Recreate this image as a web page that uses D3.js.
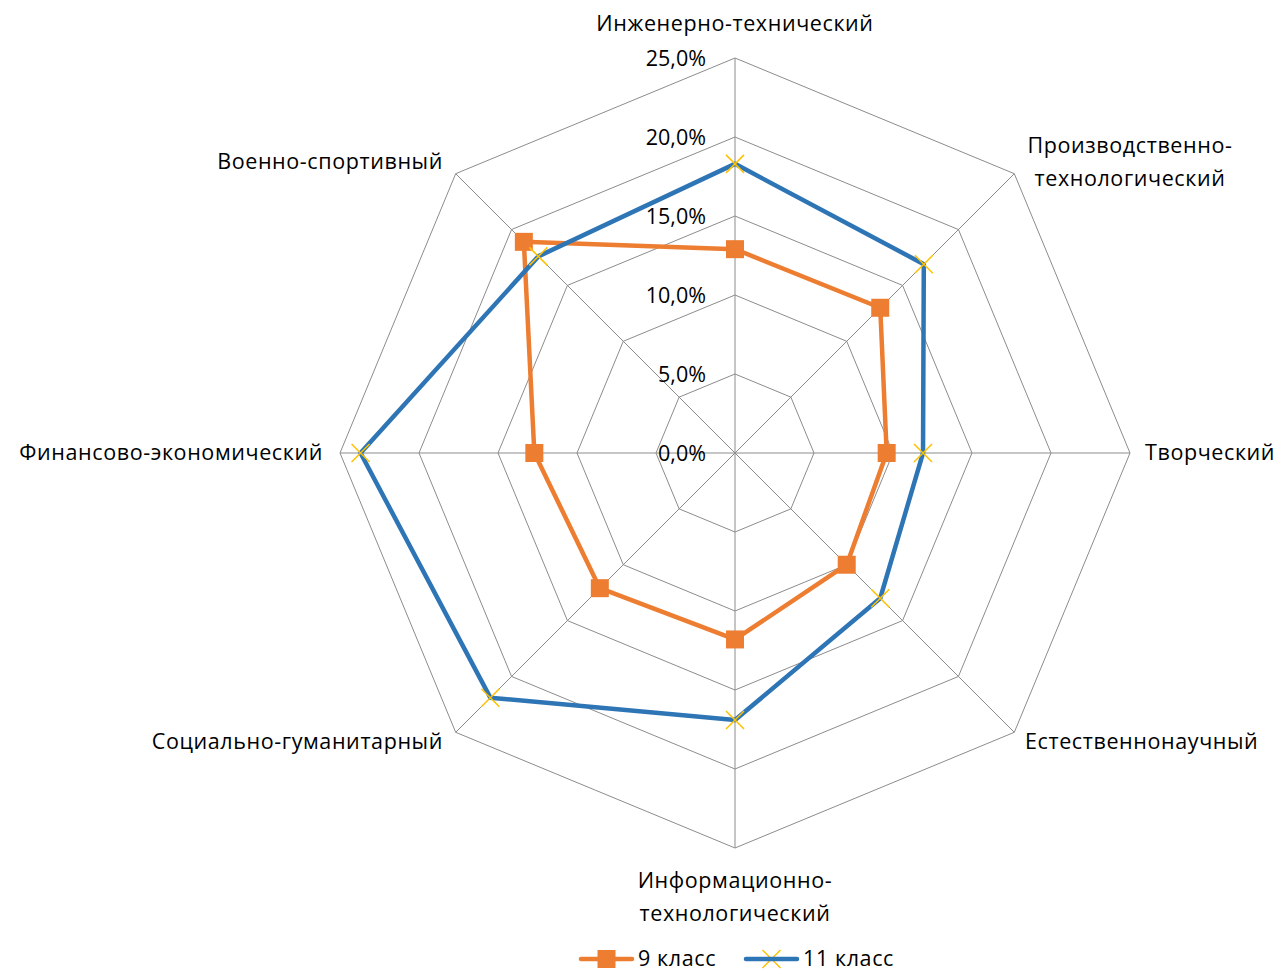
<!DOCTYPE html>
<html><head><meta charset="utf-8">
<script src="https://cdn.jsdelivr.net/npm/d3@7"></script>
<style>body{margin:0;background:#fff}svg{display:block}text{font-family:"Open Sans",sans-serif;fill:#000}</style>
</head><body><svg id="c" width="1279" height="972"></svg>
<script>
const categories = [["Инженерно-технический"],["Производственно-","технологический"],["Творческий"],["Естественнонаучный"],["Информационно-","технологический"],["Социально-гуманитарный"],["Финансово-экономический"],["Военно-спортивный"]];
const series9 = [12.9, 13.0, 9.6, 10.0, 11.8, 12.1, 12.7, 18.9];
const series11 = [18.3, 16.9, 11.9, 13.0, 16.9, 21.9, 23.7, 17.6];
const seriesNames = ["9 класс", "11 класс"];
const ticks = [0, 5, 10, 15, 20, 25];

const svg = d3.select("#c");
const cx = 735, cy = 453;
const r = d3.scaleLinear().domain([0, 25]).range([0, 395]);
const n = categories.length;
const ang = d3.scaleLinear().domain([0, n]).range([0, 2*Math.PI]);
const pt = (i, v) => [cx + r(v)*Math.sin(ang(i)), cy - r(v)*Math.cos(ang(i))];

const g = svg.append("g");
ticks.slice(1).forEach(t => {
  g.append("polygon").attr("points", d3.range(n).map(i => pt(i, t).join(",")).join(" "))
   .attr("fill","none").attr("stroke","#8c8c8c").attr("stroke-width",1);
});
d3.range(n).forEach(i => {
  const p = pt(i, 25);
  g.append("line").attr("x1",cx).attr("y1",cy).attr("x2",p[0]).attr("y2",p[1]).attr("stroke","#8c8c8c").attr("stroke-width",1);
});
const fmt = v => v.toFixed(1).replace(".", ",") + "%";
ticks.forEach(t => {
  g.append("text").attr("x", 706).attr("y", cy - r(t) + 8).attr("text-anchor","end")
   .attr("font-size", 21.5).text(fmt(t));
});
const labelPos = [
  {x:735, y:31, a:"middle"},
  {x:1130, y:153, a:"middle"},
  {x:1145, y:460, a:"start"},
  {x:1025, y:749, a:"start"},
  {x:735, y:888, a:"middle"},
  {x:443, y:749, a:"end"},
  {x:323, y:460, a:"end"},
  {x:443, y:169, a:"end"}
];
categories.forEach((lines, i) => {
  const lp = labelPos[i];
  const t = g.append("text").attr("x", lp.x).attr("y", lp.y).attr("text-anchor", lp.a)
    .attr("font-size", 21.5).attr("letter-spacing", 0.6);
  lines.forEach((l, j) => t.append("tspan").attr("x", lp.x).attr("dy", j ? 33 : 0).text(l));
});
const line = d3.line().curve(d3.curveLinearClosed);
function drawSeries(vals, color, marker) {
  const pts = vals.map((v, i) => pt(i, v));
  g.append("path").attr("d", line(pts)).attr("fill","none").attr("stroke",color).attr("stroke-width",4.5).attr("stroke-linejoin","round");
  pts.forEach(p => marker(p));
}
const sq = p => g.append("rect").attr("x",p[0]-9).attr("y",p[1]-9).attr("width",18).attr("height",18).attr("fill","#ED7D31");
const xm = p => g.append("path").attr("d",`M${p[0]-9},${p[1]-9}L${p[0]+9},${p[1]+9}M${p[0]-9},${p[1]+9}L${p[0]+9},${p[1]-9}`).attr("stroke","#FFC000").attr("stroke-width",1.5);
drawSeries(series9, "#ED7D31", sq);
drawSeries(series11, "#2E75B6", xm);
const ly = 959;
const leg = svg.append("g");
leg.append("line").attr("x1",581).attr("x2",632).attr("y1",ly).attr("y2",ly).attr("stroke","#ED7D31").attr("stroke-width",4.5).attr("stroke-linecap","round");
sq([606.5, ly]);
leg.append("text").attr("x",638).attr("y",ly+7).attr("font-size",21.5).attr("letter-spacing",0.6).text(seriesNames[0]);
leg.append("line").attr("x1",746).attr("x2",797).attr("y1",ly).attr("y2",ly).attr("stroke","#2E75B6").attr("stroke-width",4.5).attr("stroke-linecap","round");
xm([771.5, ly]);
leg.append("text").attr("x",803).attr("y",ly+7).attr("font-size",21.5).attr("letter-spacing",0.6).text(seriesNames[1]);
</script></body></html>
